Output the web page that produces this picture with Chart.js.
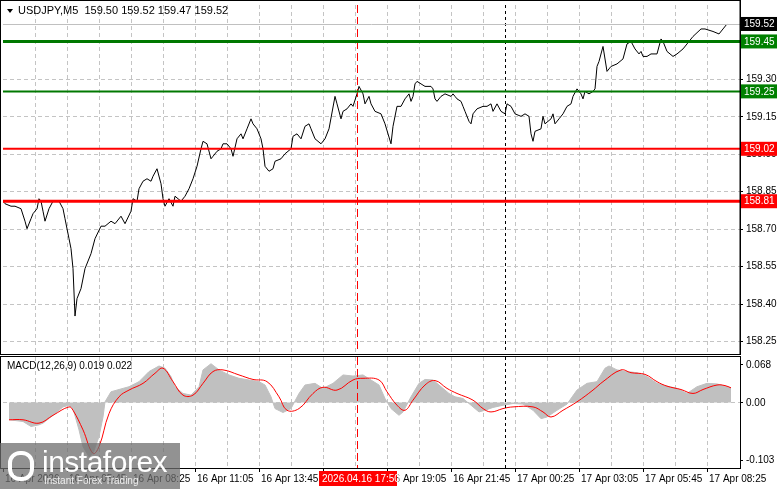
<!DOCTYPE html>
<html><head><meta charset="utf-8">
<script src="https://cdn.jsdelivr.net/npm/chart.js@4.4.1/dist/chart.umd.min.js"></script>
<style>
body{margin:0;background:#fff;width:781px;height:489px;overflow:hidden;position:relative;font-family:"Liberation Sans",Arial,sans-serif}
#c1{position:absolute;left:0;top:0}
#c2{position:absolute;left:0;top:354px}
#logo{position:absolute;left:0;top:443px;width:180px;height:46px;background:rgba(110,110,110,0.75);color:#fff}
#logo .a{position:absolute;left:42px;top:2px;font-size:30px;letter-spacing:-0.5px}
#logo .b{position:absolute;left:44px;top:32px;font-size:10px;color:#eee}
#logo .g{position:absolute;left:8px;top:8px;width:26px;height:30px;border:4px solid #fff;border-radius:12px;box-sizing:border-box}
</style></head><body>
<canvas id="c1" width="781" height="356"></canvas>
<canvas id="c2" width="781" height="135"></canvas>
<div id="logo"><div class="g"></div><div class="a">instaforex</div><div class="b">Instant Forex Trading</div></div>
<script>
const title = "USDJPY,M5  159.50 159.52 159.47 159.52";
const priceBars = [0,1,4,6,9,11,12,14,15,17,18,19,20,21,23,25,26,28,30,31,33,34,35,36,37,39,41,44,46,49,51,54,56,59,61,64,65,67,68,70,72,74,75,77,79,80,81,83,85,86,89,91,93,95,97,99,100,102,104,105,107,109,110,112,114,115,117,119,120,122,124,125,127,129,130,131,133,135,136,139,141,144,145,147,149,151,153,154,156,159,161,163,166,167,169,170,172,174,175,177,178,180,181,183,184,186,189,191,194,195,197,199,201,203,204,205,206,207,209,211,214,215,216,217,219,221,224,225,226,227,229,230,231,233,234,235,237,240,242,244,245,247,249,251,252,254,256,259,261,263,264,265,266,269,270,271,274,275,276,278,280,282,284,285,287,289,290,291,293,295,296,297,298,300,302,303,304,307,310,312,314,316,318,319,320,322,324,327,329,330,332,335,337,340,342,345,349,351,355,358,360,362];
const priceVals = [158.81,158.80,158.79,158.79,158.78,158.73,158.70,158.74,158.76,158.78,158.82,158.81,158.77,158.73,158.78,158.81,158.81,158.81,158.78,158.74,158.66,158.62,158.54,158.35,158.42,158.46,158.54,158.60,158.66,158.71,158.71,158.73,158.72,158.75,158.72,158.77,158.82,158.81,158.86,158.89,158.90,158.89,158.91,158.94,158.88,158.82,158.79,158.82,158.79,158.83,158.81,158.83,158.86,158.90,158.95,159.02,159.05,159.04,158.98,158.99,159.01,159.02,159.04,159.04,159.02,158.99,159.06,159.08,159.06,159.10,159.14,159.12,159.10,159.06,159.02,158.95,158.93,158.94,158.97,158.98,159.00,159.02,159.07,159.08,159.06,159.11,159.12,159.10,159.06,159.04,159.06,159.10,159.23,159.20,159.14,159.17,159.18,159.20,159.19,159.24,159.27,159.24,159.20,159.23,159.20,159.17,159.16,159.12,159.04,159.11,159.19,159.19,159.22,159.24,159.21,159.23,159.28,159.29,159.28,159.27,159.27,159.26,159.22,159.21,159.23,159.24,159.23,159.24,159.23,159.22,159.21,159.19,159.17,159.13,159.12,159.16,159.18,159.19,159.19,159.20,159.17,159.20,159.17,159.16,159.20,159.19,159.16,159.15,159.16,159.15,159.08,159.05,159.09,159.10,159.15,159.12,159.14,159.16,159.12,159.14,159.16,159.19,159.20,159.23,159.26,159.24,159.22,159.25,159.24,159.25,159.26,159.35,159.37,159.43,159.33,159.34,159.35,159.36,159.38,159.44,159.45,159.42,159.40,159.41,159.39,159.39,159.40,159.40,159.46,159.45,159.41,159.39,159.40,159.42,159.44,159.47,159.50,159.50,159.49,159.48,159.50,159.52];
const priceTicks = [158.25,158.40,158.55,158.70,158.85,159.00,159.15,159.30];
const levelVals = [159.45,159.25,159.02,158.81];
const levelColors = ["#007800","#007800","#ff0000","#ff0000"];
const levelWidths = [3,2,2,3];
const lastPrice = 159.52;
const histBars = [3,10,14,18,20,25,30,33,35,38,40,43,45,48,50,51,54,58,63,68,73,78,81,84,86,90,94,98,100,104,108,113,118,123,128,131,134,136,140,144,148,151,156,160,165,170,175,180,184,188,191,194,198,200,204,208,211,215,219,223,226,230,234,238,241,245,250,255,260,265,269,272,277,282,287,292,297,301,303,307,312,317,322,327,332,337,342,347,352,357,362,364];
const histVals = [-0.031,-0.034,-0.043,-0.040,-0.037,-0.023,-0.008,-0.005,-0.011,-0.049,-0.079,-0.097,-0.091,-0.061,-0.026,0.001,0.019,0.023,0.028,0.037,0.055,0.065,0.061,0.046,0.028,0.016,0.013,0.028,0.058,0.069,0.058,0.049,0.043,0.040,0.037,0.031,0.010,-0.011,-0.018,-0.011,0.016,0.031,0.034,0.025,0.034,0.049,0.047,0.049,0.040,0.031,0.007,-0.011,-0.023,-0.017,0.010,0.034,0.041,0.040,0.028,0.016,0.010,0.007,-0.005,-0.017,-0.014,-0.009,-0.005,-0.002,-0.003,-0.014,-0.029,-0.026,-0.014,-0.003,0.022,0.034,0.037,0.061,0.065,0.058,0.055,0.053,0.046,0.034,0.029,0.025,0.016,0.028,0.034,0.033,0.028,0.026];
const sigBars = [3,10,18,25,33,35,40,45,48,53,58,63,70,76,80,85,90,95,100,105,110,118,125,132,138,142,148,155,160,167,175,180,188,192,197,201,205,211,216,222,227,235,240,244,250,255,265,270,274,280,287,295,300,309,314,321,327,332,339,345,350,357,361,364];
const sigVals = [-0.031,-0.031,-0.037,-0.023,-0.008,-0.014,-0.049,-0.091,-0.079,-0.020,0.010,0.022,0.034,0.052,0.061,0.037,0.013,0.013,0.034,0.055,0.058,0.049,0.041,0.037,0.010,-0.014,-0.011,0.016,0.027,0.022,0.040,0.043,0.040,0.019,-0.005,-0.014,0.004,0.031,0.039,0.025,0.016,0.004,-0.011,-0.017,-0.011,-0.008,-0.008,-0.017,-0.026,-0.014,0.001,0.022,0.037,0.058,0.053,0.050,0.037,0.029,0.023,0.016,0.023,0.031,0.030,0.026];
const macdTicks = [-0.103,0.00,0.068];
const macdTickLabels = ["-0.103","0.00","0.068"];
const timeTickBars = [0,32,64,96,128,160,192,224,256,288,320,352];
const timeLabels = ["16 Apr 2026","16 Apr 05:45","16 Apr 08:25","16 Apr 11:05","16 Apr 13:45","16 Apr 16:25","16 Apr 19:05","16 Apr 21:45","17 Apr 00:25","17 Apr 03:05","17 Apr 05:45","17 Apr 08:25"];
const cursorBar = 177, cursorLabel = "2026.04.16 17:50";
const sepBar = 251;
const macdTitle = "MACD(12,26,9) 0.019 0.022";

const xAxis = {type:'linear', display:false, min:0, max:368.5};
const F10 = "10px 'Liberation Sans'";

function vline(ctx,x,top,bot,color,dash){ctx.save();ctx.strokeStyle=color;ctx.lineWidth=1;ctx.setLineDash(dash);ctx.beginPath();ctx.moveTo(Math.round(x)+0.5,top);ctx.lineTo(Math.round(x)+0.5,bot);ctx.stroke();ctx.restore();}
function hline(ctx,y,l,r,color,dash){ctx.save();ctx.strokeStyle=color;ctx.lineWidth=1;ctx.setLineDash(dash);ctx.beginPath();ctx.moveTo(l,Math.round(y)+0.5);ctx.lineTo(r,Math.round(y)+0.5);ctx.stroke();ctx.restore();}
function yLabels(ch,vals,labels){
  const {ctx,chartArea:a,scales:{y}}=ch;
  ctx.save();ctx.fillStyle="#000";ctx.strokeStyle="#000";ctx.font=F10;ctx.textBaseline="middle";ctx.textAlign="left";
  vals.forEach((v,i)=>{const py=y.getPixelForValue(v);ctx.fillText(labels[i],a.right+6,py+0.5);
    ctx.beginPath();ctx.moveTo(a.right,Math.round(py)+0.5);ctx.lineTo(a.right+3,Math.round(py)+0.5);ctx.stroke();});
  ctx.restore();
}
const gridPlugin = {id:'gridp',
  beforeDatasetsDraw(ch){
    const {ctx,chartArea:a,scales:{x,y}}=ch;
    for(let b=16;b<368;b+=16) vline(ctx,x.getPixelForValue(b),a.top,a.bottom,"#c4c4c4",[4,3]);
    const list=ch.options.plugins.gridp.zeroOnly?[0]:priceTicks;
    list.forEach(v=>hline(ctx,y.getPixelForValue(v),a.left,a.right,"#c4c4c4",[4,3]));
  }};

const mainPlugin = {id:'mainp',
  afterDraw(ch){
    const {ctx,chartArea:a,scales:{x,y}}=ch;
    yLabels(ch,priceTicks,priceTicks.map(v=>v.toFixed(2)));
    vline(ctx,x.getPixelForValue(cursorBar),a.top,a.bottom,"#ff0000",[8,4]);
    vline(ctx,x.getPixelForValue(sepBar),a.top,a.bottom,"#000",[3,3]);
    ctx.save();
    let py=Math.round(y.getPixelForValue(lastPrice))+0.5;
    ctx.strokeStyle="#c0c0c0";ctx.beginPath();ctx.moveTo(a.left,py);ctx.lineTo(a.right,py);ctx.stroke();
    levelVals.forEach((v,i)=>{const yy=y.getPixelForValue(v);ctx.strokeStyle=levelColors[i];ctx.lineWidth=levelWidths[i];ctx.beginPath();ctx.moveTo(a.left,yy);ctx.lineTo(a.right,yy);ctx.stroke();});
    ctx.font=F10;ctx.textBaseline="middle";ctx.textAlign="left";
    const box=(v,bg)=>{const yy=y.getPixelForValue(v);ctx.fillStyle=bg;ctx.fillRect(a.right+1,yy-7,36,14);ctx.fillStyle="#fff";ctx.fillText(v.toFixed(2),a.right+4,yy+0.5);};
    box(lastPrice,"#000");
    levelVals.forEach((v,i)=>box(v,levelColors[i]==="#007800"?"#008000":"#ff0000"));
    ctx.strokeStyle="#000";ctx.lineWidth=1;ctx.setLineDash([]);
    ctx.strokeRect(0.5,0.5,a.right-0.5,ch.height-2);
    ctx.beginPath();ctx.moveTo(a.right+0.5,0);ctx.lineTo(a.right+0.5,ch.height-1);ctx.stroke();
    ctx.fillStyle="#000";ctx.font="11px 'Liberation Sans'";ctx.textBaseline="middle";
    ctx.beginPath();ctx.moveTo(7,9);ctx.lineTo(13,9);ctx.lineTo(10,13);ctx.closePath();ctx.fill();
    ctx.fillText(title,18,11);
    ctx.restore();
  }};

new Chart(document.getElementById('c1'),{type:'line',
  data:{datasets:[{data:priceBars.map((b,i)=>({x:b,y:priceVals[i]})),borderColor:"#000",borderWidth:1,pointRadius:0,tension:0}]},
  options:{responsive:false,animation:false,layout:{padding:{left:3,top:5,bottom:4,right:41}},
    plugins:{legend:{display:false},tooltip:{enabled:false},gridp:{zeroOnly:false}},
    scales:{x:xAxis, y:{display:false,min:158.206,max:159.596}}},
  plugins:[gridPlugin,mainPlugin]});

const macdPlugin = {id:'macdp',
  afterDraw(ch){
    const {ctx,chartArea:a,scales:{x,y}}=ch;
    yLabels(ch,macdTicks,macdTickLabels);
    vline(ctx,x.getPixelForValue(cursorBar),a.top,a.bottom,"#ff0000",[8,4]);
    vline(ctx,x.getPixelForValue(sepBar),a.top,a.bottom,"#000",[3,3]);
    ctx.save();
    ctx.strokeStyle="#000";ctx.lineWidth=1;
    ctx.strokeRect(0.5,a.top-0.5,a.right,a.bottom-a.top+1);
    ctx.fillStyle="#000";ctx.font=F10;ctx.textBaseline="middle";ctx.textAlign="left";
    ctx.fillText(macdTitle,7,a.top+9);
    timeTickBars.forEach((b,i)=>{const px=x.getPixelForValue(b);ctx.fillText(timeLabels[i],px+2,a.bottom+11);
      ctx.beginPath();ctx.moveTo(Math.round(px)+0.5,a.bottom);ctx.lineTo(Math.round(px)+0.5,a.bottom+4);ctx.stroke();});
    const cx=x.getPixelForValue(cursorBar);
    ctx.fillStyle="#ff0000";ctx.fillRect(cx-38,a.bottom+3,78,15);
    ctx.fillStyle="#fff";ctx.fillText(cursorLabel,cx-35,a.bottom+11);
    ctx.restore();
  }};

new Chart(document.getElementById('c2'),{type:'line',
  data:{datasets:[
    {data:sigBars.map((b,i)=>({x:b,y:sigVals[i]})),borderColor:"#ff0000",borderWidth:1,pointRadius:0,tension:0.4,fill:false},
    {data:histBars.map((b,i)=>({x:b,y:histVals[i]})),borderColor:"#c0c0c0",borderWidth:1,backgroundColor:"#c0c0c0",pointRadius:0,tension:0,fill:'origin'}]},
  options:{responsive:false,animation:false,layout:{padding:{left:3,top:3,bottom:21,right:41}},
    plugins:{legend:{display:false},tooltip:{enabled:false},gridp:{zeroOnly:true}},
    scales:{x:xAxis, y:{display:false,min:-0.117,max:0.081}}},
  plugins:[gridPlugin,macdPlugin]});
</script></body></html>
